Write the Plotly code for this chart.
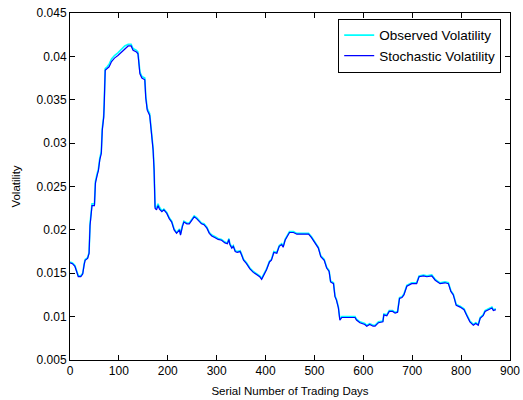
import plotly.graph_objects as go

days = [0, 5, 10, 14, 17, 22, 26, 29, 31, 36, 39, 41, 43, 45, 50, 52, 56, 58, 61, 64,
        66, 69, 70, 72, 76, 80, 85, 91, 98, 105, 112, 119, 125, 129, 136, 139, 143, 147, 153, 155,
        158, 163, 166, 170, 172, 174, 177, 180, 183, 188, 192, 198, 203, 208, 213, 218, 224, 226, 230, 233,
        239, 244, 249, 254, 259, 264, 269, 274, 280, 285, 290, 297, 303, 310, 317, 322, 325, 327, 331, 334,
        338, 342, 348, 351, 355, 361, 368, 375, 382, 388, 392, 397, 402, 408, 412, 417, 423, 428, 433, 436,
        440, 444, 449, 457, 464, 477, 488, 494, 501, 508, 513, 520, 525, 530, 533, 539, 542, 545, 549, 552,
        556, 570, 583, 586, 593, 603, 607, 613, 620, 624, 631, 640, 642, 648, 653, 660, 665, 670, 674, 679,
        683, 689, 699, 709, 714, 723, 730, 740, 747, 757, 767, 774, 779, 784, 790, 798, 806, 811, 818, 825,
        830, 835, 839, 845, 849, 856, 863, 866, 871]

stochastic = [0.0162, 0.0161, 0.0158, 0.0152, 0.0146, 0.0146, 0.0149, 0.0160, 0.0165, 0.0167,
              0.0173, 0.0205, 0.0214, 0.0228, 0.0228, 0.0254, 0.0264, 0.0268, 0.0281, 0.0288,
              0.0315, 0.0330, 0.0345, 0.0384, 0.0386, 0.0388, 0.0394, 0.0398, 0.0401, 0.0405,
              0.0409, 0.0412, 0.0412, 0.0407, 0.0405, 0.0403, 0.0380, 0.0375, 0.0373, 0.0352,
              0.0338, 0.0332, 0.0315, 0.0292, 0.0269, 0.0225, 0.0223, 0.0228, 0.0224, 0.0221,
              0.0223, 0.0219, 0.0213, 0.0209, 0.0200, 0.0196, 0.0200, 0.0194, 0.0204, 0.0209,
              0.0207, 0.0207, 0.0211, 0.0215, 0.0213, 0.0210, 0.0207, 0.0206, 0.0202, 0.0196,
              0.0193, 0.0191, 0.0189, 0.0188, 0.0185, 0.0184, 0.0189, 0.0183, 0.0179, 0.0181,
              0.0175, 0.0174, 0.0175, 0.0171, 0.0165, 0.0161, 0.0155, 0.0151, 0.0148, 0.0146,
              0.0143, 0.0148, 0.0154, 0.0163, 0.0165, 0.0174, 0.0173, 0.0181, 0.0183, 0.0180,
              0.0188, 0.0192, 0.0197, 0.0197, 0.0195, 0.0195, 0.0195, 0.0191, 0.0185, 0.0179,
              0.0169, 0.0165, 0.0156, 0.0152, 0.0140, 0.0138, 0.0123, 0.0119, 0.0110, 0.0096,
              0.0099, 0.0099, 0.0099, 0.0096, 0.0093, 0.0091, 0.0089, 0.0091, 0.0089, 0.0089,
              0.0093, 0.0094, 0.0102, 0.0101, 0.0106, 0.0106, 0.0104, 0.0105, 0.0121, 0.0122,
              0.0125, 0.0135, 0.0138, 0.0138, 0.0146, 0.0147, 0.0146, 0.0147, 0.0142, 0.0138,
              0.0139, 0.0138, 0.0129, 0.0125, 0.0113, 0.0111, 0.0108, 0.0102, 0.0094, 0.0090,
              0.0092, 0.0090, 0.0098, 0.0101, 0.0106, 0.0108, 0.0110, 0.0107, 0.0108]

observed = [0.0163, 0.0162, 0.0159, 0.0153, 0.0147, 0.0147, 0.0150, 0.0161, 0.0166, 0.0168,
            0.0174, 0.0207, 0.0216, 0.0230, 0.0230, 0.0256, 0.0266, 0.0270, 0.0283, 0.0290,
            0.0317, 0.0332, 0.0347, 0.0386, 0.0388, 0.0391, 0.0397, 0.0401, 0.0404, 0.0408,
            0.0412, 0.0414, 0.0414, 0.0409, 0.0407, 0.0405, 0.0382, 0.0377, 0.0375, 0.0354,
            0.0340, 0.0334, 0.0317, 0.0294, 0.0271, 0.0227, 0.0225, 0.0230, 0.0226, 0.0222,
            0.0224, 0.0220, 0.0214, 0.0210, 0.0201, 0.0197, 0.0201, 0.0195, 0.0205, 0.0210,
            0.0208, 0.0208, 0.0212, 0.0216, 0.0214, 0.0211, 0.0208, 0.0207, 0.0203, 0.0197,
            0.0194, 0.0192, 0.0190, 0.0189, 0.0186, 0.0185, 0.0190, 0.0184, 0.0180, 0.0182,
            0.0176, 0.0175, 0.0176, 0.0172, 0.0166, 0.0162, 0.0156, 0.0152, 0.0149, 0.0147,
            0.0144, 0.0149, 0.0155, 0.0164, 0.0166, 0.0175, 0.0174, 0.0182, 0.0184, 0.0181,
            0.0189, 0.0193, 0.0198, 0.0198, 0.0196, 0.0196, 0.0196, 0.0192, 0.0186, 0.0180,
            0.0170, 0.0166, 0.0157, 0.0153, 0.0141, 0.0139, 0.0124, 0.0120, 0.0111, 0.0097,
            0.0100, 0.0100, 0.0100, 0.0097, 0.0094, 0.0092, 0.0090, 0.0092, 0.0090, 0.0090,
            0.0094, 0.0095, 0.0103, 0.0102, 0.0107, 0.0107, 0.0105, 0.0106, 0.0122, 0.0123,
            0.0126, 0.0136, 0.0139, 0.0139, 0.0147, 0.0148, 0.0147, 0.0148, 0.0143, 0.0139,
            0.0140, 0.0139, 0.0130, 0.0126, 0.0114, 0.0112, 0.0109, 0.0103, 0.0095, 0.0091,
            0.0093, 0.0091, 0.0099, 0.0102, 0.0107, 0.0109, 0.0111, 0.0108, 0.0109]

x_ticks = [0, 100, 200, 300, 400, 500, 600, 700, 800, 900]
y_ticks = [0.005, 0.01, 0.015, 0.02, 0.025, 0.03, 0.035, 0.04, 0.045]
y_tick_text = ['0.005', '0.01', '0.015', '0.02', '0.025', '0.03', '0.035', '0.04', '0.045']

fig = go.Figure()
fig.add_trace(go.Scatter(x=days, y=observed, mode='lines', name='Observed Volatility',
                         line=dict(color='#00FFFF', width=1.6)))
fig.add_trace(go.Scatter(x=days, y=stochastic, mode='lines', name='Stochastic Volatility',
                         line=dict(color='#0000FF', width=1.2)))

axis_style = dict(showline=True, linecolor='black', linewidth=1, mirror='ticks',
                  ticks='inside', ticklen=5, tickcolor='black', showgrid=False, zeroline=False,
                  automargin=False, ticklabeloverflow='allow', tickfont=dict(size=12, color='black'))

fig.update_xaxes(range=[0, 900], tickvals=x_ticks, **axis_style,
                 title=dict(text='Serial Number of Trading Days', font=dict(size=11.5, color='black'), standoff=9))
fig.update_yaxes(range=[0.005, 0.045], tickvals=y_ticks, ticktext=y_tick_text, **axis_style,
                 title=dict(text='Volatility', font=dict(size=11.5, color='black'), standoff=13))

fig.update_layout(
    width=523, height=400,
    margin=dict(l=70, r=13, t=13, b=40),
    paper_bgcolor='white', plot_bgcolor='white',
    font=dict(family='Liberation Sans, Arial, sans-serif', size=12, color='black'),
    legend=dict(x=0.98, y=0.983, xanchor='right', yanchor='top',
                bordercolor='black', borderwidth=1, bgcolor='white',
                font=dict(size=13.5), tracegroupgap=0, itemwidth=30),
    showlegend=True,
)

# drop the default page margin so the figure sits at the window's top-left corner
fig.write_html("out.html", config={'displayModeBar': False},
               post_script="document.body.style.margin='0';")
